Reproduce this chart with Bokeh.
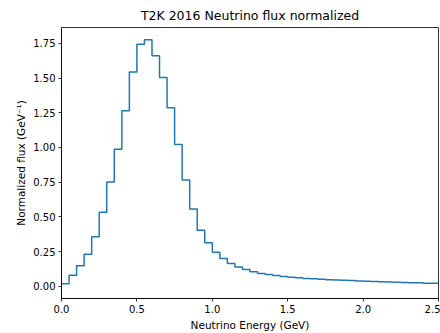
import numpy as np
from bokeh.plotting import figure
from bokeh.models import FixedTicker, NumeralTickFormatter, Range1d
from bokeh.embed import file_html
from bokeh.resources import INLINE

# Bin edges (GeV), 0.05 GeV bins
bin_width = 0.05
n_bins = 50
bin_edges = [round(i * bin_width, 2) for i in range(n_bins + 1)]

# Normalized flux per bin (GeV^-1)
flux = [0.018, 0.078, 0.148, 0.230, 0.357, 0.533, 0.751, 0.988, 1.265, 1.544,
        1.745, 1.776, 1.662, 1.505, 1.287, 1.022, 0.765, 0.557, 0.404, 0.314,
        0.245, 0.200, 0.163, 0.139, 0.120, 0.104, 0.092, 0.084, 0.077, 0.070,
        0.064, 0.060, 0.056, 0.053, 0.050, 0.047, 0.045, 0.043, 0.041, 0.038,
        0.036, 0.034, 0.032, 0.030, 0.028, 0.027, 0.025, 0.024, 0.022, 0.021]

x_ticks = [0.0, 0.5, 1.0, 1.5, 2.0, 2.5]
y_ticks = [0.0, 0.25, 0.5, 0.75, 1.0, 1.25, 1.5, 1.75]

FONT = "DejaVu Sans"

p = figure(width=440, height=333, output_backend="svg", toolbar_location=None,
           title="T2K 2016 Neutrino flux normalized",
           x_range=Range1d(0, 2.5), y_range=Range1d(-0.0888, 1.865),
           min_border_left=61, min_border_right=2, min_border_top=23,
           min_border_bottom=33)

p.step(x=bin_edges, y=flux + [flux[-1]], mode="after",
       line_color="#1f77b4", line_width=1.5)

p.title.align = "center"
p.title.text_font = FONT
p.title.text_font_size = "12.5px"
p.title.text_font_style = "normal"
p.title.text_color = "black"

p.xgrid.visible = False
p.ygrid.visible = False
p.outline_line_color = "black"
p.outline_line_width = 0.8
p.outline_line_alpha = 1.0

for ax in (p.xaxis[0], p.yaxis[0]):
    ax.major_label_text_font = FONT
    ax.major_label_text_font_size = "10px"
    ax.major_label_text_color = "black"
    ax.axis_label_text_font = FONT
    ax.axis_label_text_font_size = "10.5px"
    ax.axis_label_text_font_style = "normal"
    ax.axis_label_text_color = "black"
    ax.axis_line_color = "black"
    ax.axis_line_width = 0.8
    ax.major_tick_line_color = "black"
    ax.major_tick_line_width = 0.8
    ax.major_tick_in = 0
    ax.major_tick_out = 3
    ax.minor_tick_line_color = None
    ax.major_label_standoff = 3
    ax.axis_label_standoff = 3

p.xaxis.ticker = FixedTicker(ticks=x_ticks)
p.xaxis.formatter = NumeralTickFormatter(format="0.0")
p.xaxis.axis_label = "Neutrino Energy (GeV)"

p.yaxis.ticker = FixedTicker(ticks=y_ticks)
p.yaxis.formatter = NumeralTickFormatter(format="0.00")
p.yaxis.axis_label = "Normalized flux (GeV\u207b\u00b9)"

open("out.html", "w").write(file_html(p, INLINE))
